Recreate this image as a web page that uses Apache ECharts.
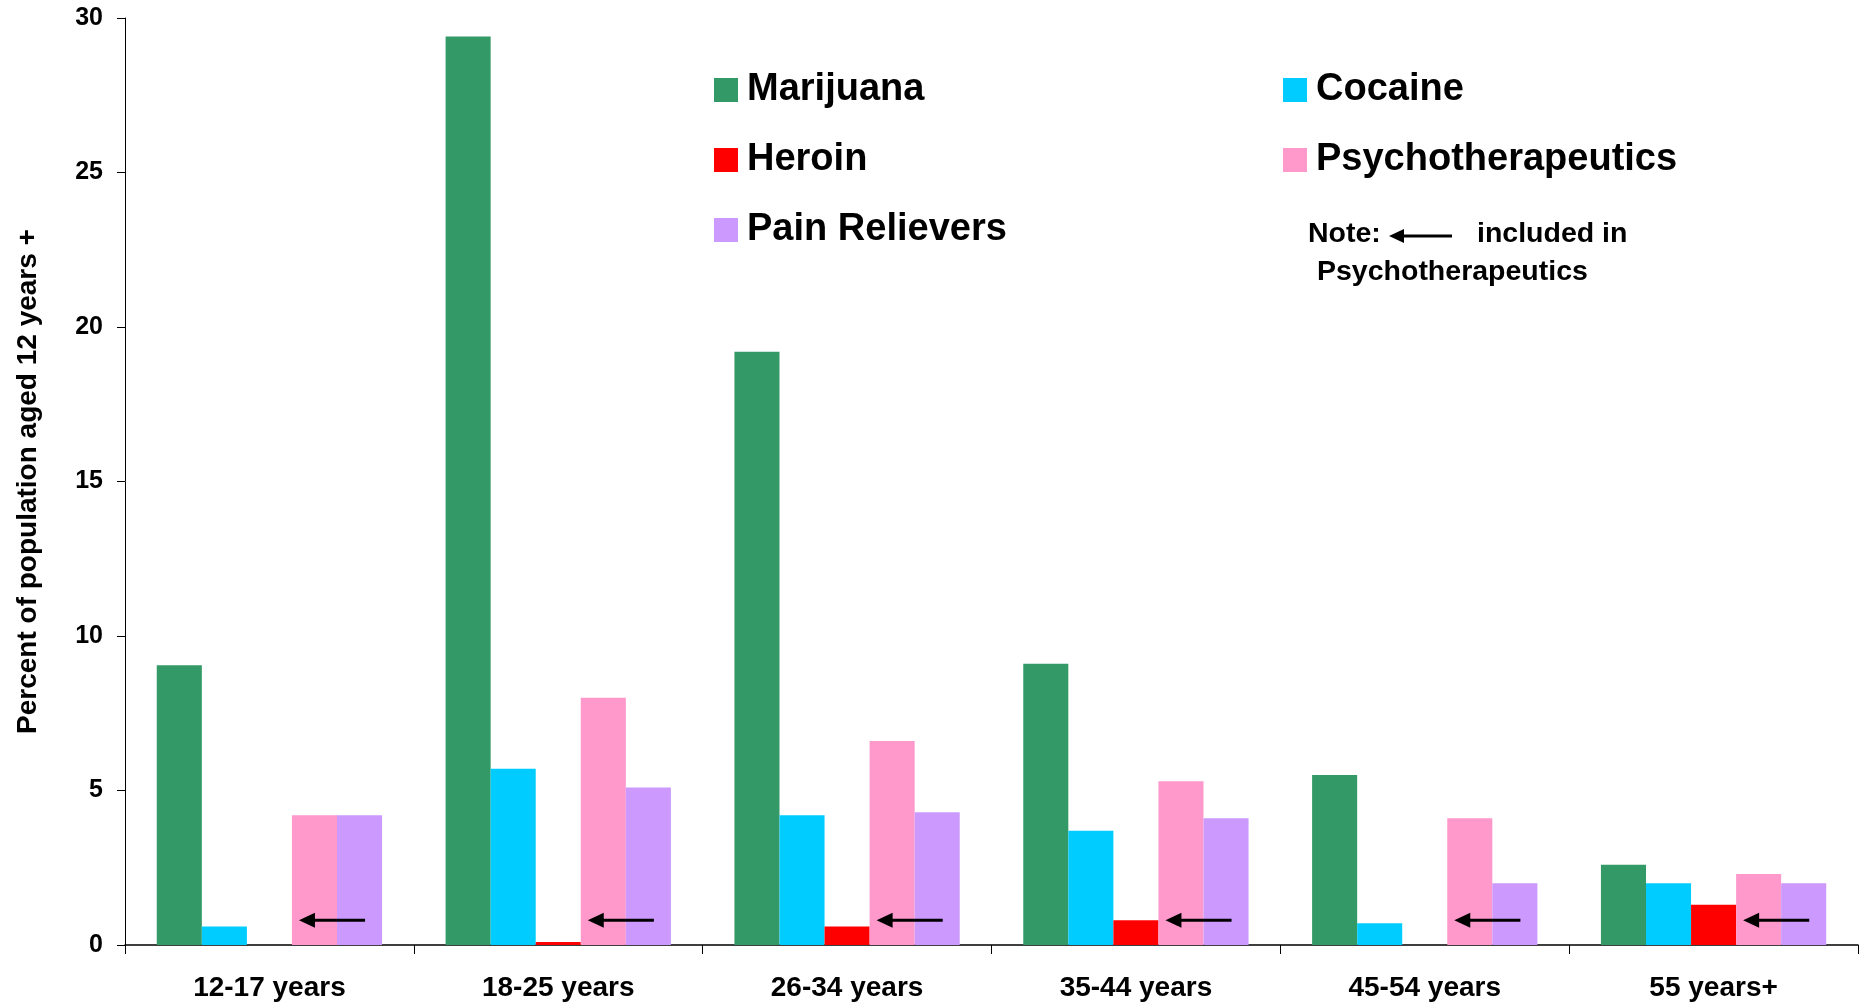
<!DOCTYPE html>
<html>
<head>
<meta charset="utf-8">
<script src="https://cdn.jsdelivr.net/npm/echarts@6/dist/echarts.min.js"></script>
<style>html,body{margin:0;padding:0;background:#fff}#c{width:1866px;height:1006px}</style>
</head>
<body>
<div id="c"></div>
<script>
const categories = ['12-17 years', '18-25 years', '26-34 years', '35-44 years', '45-54 years', '55 years+'];
const marijuana = [9.05, 29.4, 19.2, 9.1, 5.5, 2.6];
const cocaine = [0.6, 5.7, 4.2, 3.7, 0.7, 2.0];
const heroin = [null, 0.1, 0.6, 0.8, null, 1.3];
const psychotherapeutics = [4.2, 8.0, 6.6, 5.3, 4.1, 2.3];
const painRelievers = [4.2, 5.1, 4.3, 4.1, 2.0, 2.0];
const arrowLevel = [0.8, 0.8, 0.8, 0.8, 0.8, 0.8];
const yTicks = { min: 0, max: 30, interval: 5 };

const FONT = '"Liberation Sans", Arial, sans-serif';
const GAP = 0.22;

const chart = echarts.init(document.getElementById('c'));
function bar(name, data, color) {
  return { name, type: 'bar', data, barGap: '0%', barCategoryGap: (GAP * 100) + '%',
    itemStyle: { color }, emphasis: { disabled: true } };
}
const legendText = { fontFamily: FONT, fontSize: 38, fontWeight: 'bold', color: '#000', lineHeight: 40, padding: [0, 0, 0, 4] };
chart.setOption({
  animation: false,
  textStyle: { fontFamily: FONT },
  grid: { left: 125, right: 8, top: 18, bottom: 61, containLabel: false },
  legend: [
    { left: 714, top: 70, orient: 'vertical', itemGap: 30, itemWidth: 24, itemHeight: 24, padding: 0, icon: 'rect',
      data: ['Marijuana', 'Heroin', 'Pain Relievers'], selectedMode: false, textStyle: legendText },
    { left: 1283, top: 70, orient: 'vertical', itemGap: 30, itemWidth: 24, itemHeight: 24, padding: 0, icon: 'rect',
      data: ['Cocaine', 'Psychotherapeutics'], selectedMode: false, textStyle: legendText }
  ],
  xAxis: {
    type: 'category', data: categories,
    axisLine: { lineStyle: { color: '#000', width: 1.5 } },
    axisTick: { show: true, length: 9, lineStyle: { color: '#000' } },
    axisLabel: { fontFamily: FONT, fontSize: 28, fontWeight: 'bold', color: '#000', margin: 29 }
  },
  yAxis: {
    type: 'value', min: yTicks.min, max: yTicks.max, interval: yTicks.interval,
    name: 'Percent of population aged 12 years +', nameLocation: 'middle', nameRotate: 90, nameGap: 83,
    nameTextStyle: { fontFamily: FONT, fontSize: 28, fontWeight: 'bold', color: '#000' },
    axisLine: { show: true, lineStyle: { color: '#000', width: 1 } },
    axisTick: { show: true, length: 8, lineStyle: { color: '#000' } },
    splitLine: { show: false },
    axisLabel: { fontFamily: FONT, fontSize: 25, fontWeight: 'bold', color: '#000', margin: 22 }
  },
  series: [
    bar('Marijuana', marijuana, '#339966'),
    bar('Cocaine', cocaine, '#00CCFF'),
    bar('Heroin', heroin, '#FF0000'),
    bar('Psychotherapeutics', psychotherapeutics, '#FF99CC'),
    bar('Pain Relievers', painRelievers, '#CC99FF'),
    {
      name: 'arrows', type: 'custom', z: 10, silent: true,
      data: arrowLevel.map((v, i) => [i, v]),
      renderItem: function (params, api) {
        const c = api.coord([api.value(0), api.value(1)]);
        const band = api.size([1, 0])[0];
        const w = band * (1 - GAP) / 5;
        const tip = c[0] + 0.5 * w + 7;
        const tail = c[0] + 2.5 * w - 17;
        const y = c[1];
        return { type: 'group', children: [
          { type: 'line', shape: { x1: tip + 12, y1: y, x2: tail, y2: y }, style: { stroke: '#000', lineWidth: 3 } },
          { type: 'polygon', shape: { points: [[tip, y], [tip + 16, y - 7.5], [tip + 16, y + 7.5]] }, style: { fill: '#000' } }
        ] };
      }
    }
  ],
  graphic: [
    { type: 'text', left: 1308, top: 220, style: { text: 'Note:', font: 'bold 28.5px ' + FONT, fill: '#000' } },
    { type: 'line', shape: { x1: 1400, y1: 236, x2: 1452, y2: 236 }, style: { stroke: '#000', lineWidth: 3 } },
    { type: 'polygon', shape: { points: [[1389, 236], [1404, 229], [1404, 243]] }, style: { fill: '#000' } },
    { type: 'text', left: 1477, top: 220, style: { text: 'included in', font: 'bold 28.5px ' + FONT, fill: '#000' } },
    { type: 'text', left: 1317, top: 258, style: { text: 'Psychotherapeutics', font: 'bold 28.5px ' + FONT, fill: '#000' } }
  ]
});
</script>
</body>
</html>
